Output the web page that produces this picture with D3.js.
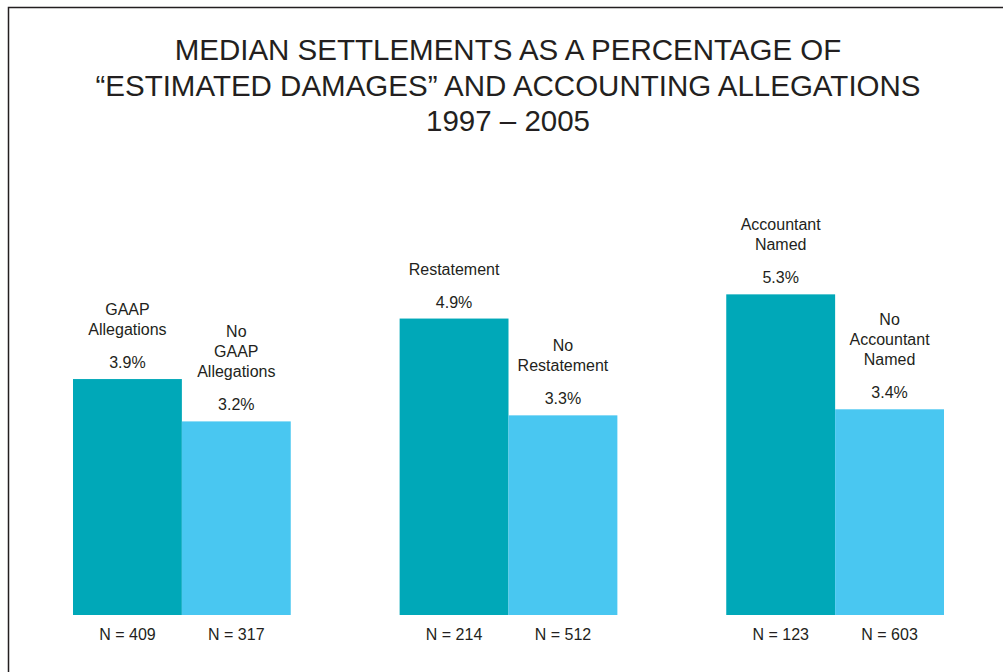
<!DOCTYPE html>
<html>
<head>
<meta charset="utf-8">
<script src="https://cdn.jsdelivr.net/npm/d3@7"></script>
<style>
  body { margin: 0; background: #fff; }
  text { font-family: "Liberation Sans", Arial, sans-serif; fill: #231f20; }
</style>
</head>
<body>
<div class="container"></div>
<script>
// data
var groups = ["GAAP", "Restatement", "Accountant"];
var series = ["yes", "no"];
var values = [[3.9, 3.2], [4.9, 3.3], [5.3, 3.4]];
var counts = [[409, 317], [214, 512], [123, 603]];
var labels = [
  [["GAAP", "Allegations"], ["No", "GAAP", "Allegations"]],
  [["Restatement"], ["No", "Restatement"]],
  [["Accountant", "Named"], ["No", "Accountant", "Named"]]
];
var titleLines = ["MEDIAN SETTLEMENTS AS A PERCENTAGE OF",
                  "\u201CESTIMATED DAMAGES\u201D AND ACCOUNTING ALLEGATIONS",
                  "1997 \u2013 2005"];
var colors = ["#00a8b8", "#49c7f1"];

var width = 1003, height = 672;

var svg = d3.select("div.container").append("svg")
    .attr("width", width)
    .attr("height", height);

// frame
svg.append("rect")
    .attr("x", 8.5).attr("y", 7.5)
    .attr("width", 1010).attr("height", 700)
    .attr("fill", "none")
    .attr("stroke", "#231f20")
    .attr("stroke-width", 1.5);

// title
svg.append("g").selectAll("text")
    .data(titleLines)
    .enter().append("text")
    .attr("x", 508)
    .attr("y", function(d, i) { return 60 + i * 35.5; })
    .attr("text-anchor", "middle")
    .attr("font-size", 29.5)
    .text(function(d) { return d; });

var x0 = d3.scaleBand().domain(groups).range([73, 944]).paddingInner(1 / 3).paddingOuter(0);
var x1 = d3.scaleBand().domain(series).range([0, x0.bandwidth()]).padding(0);
var y = d3.scaleLinear().domain([0, 6]).range([615, 615 - 6 * 60.5]);

var rows = [];
groups.forEach(function(g, gi) {
  series.forEach(function(s, si) {
    rows.push({g: g, s: s, si: si, v: values[gi][si], n: counts[gi][si], lab: labels[gi][si]});
  });
});

var bar = svg.append("g").selectAll("g")
    .data(rows)
    .enter().append("g")
    .attr("transform", function(d) { return "translate(" + (x0(d.g) + x1(d.s)) + ",0)"; });

bar.append("rect")
    .attr("x", 0)
    .attr("y", function(d) { return y(d.v); })
    .attr("width", x1.bandwidth())
    .attr("height", function(d) { return y(0) - y(d.v); })
    .attr("fill", function(d) { return colors[d.si]; });

var cx = x1.bandwidth() / 2;

// value labels
bar.append("text")
    .attr("x", cx)
    .attr("y", function(d) { return y(d.v) - 11; })
    .attr("text-anchor", "middle")
    .attr("font-size", 16)
    .text(function(d) { return d.v.toFixed(1) + "%"; });

// category labels above the values
bar.each(function(d) {
  var g = d3.select(this);
  var last = y(d.v) - 11 - 33;
  d.lab.forEach(function(line, i) {
    g.append("text")
      .attr("x", cx)
      .attr("y", last - (d.lab.length - 1 - i) * 20)
      .attr("text-anchor", "middle")
      .attr("font-size", 16)
      .text(line);
  });
});

// N labels
bar.append("text")
    .attr("x", cx)
    .attr("y", 640)
    .attr("text-anchor", "middle")
    .attr("font-size", 16)
    .text(function(d) { return "N = " + d.n; });
</script>
</body>
</html>
